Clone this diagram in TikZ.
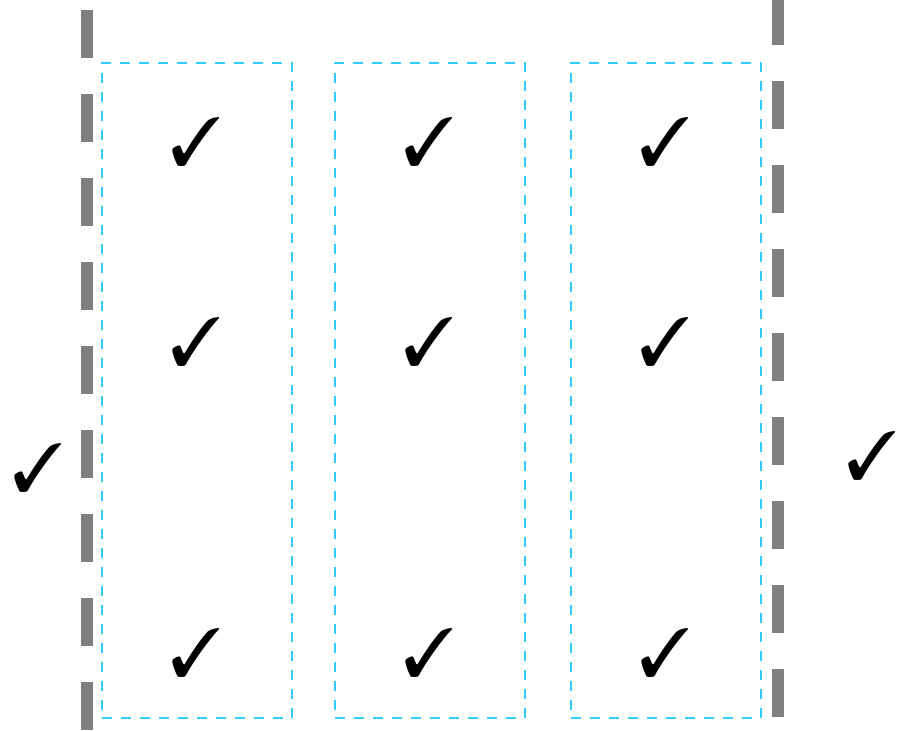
\documentclass[tikz,border=0pt]{standalone}
\usepackage{pifont}
\usepackage{tikz}
\usetikzlibrary{positioning}
\definecolor{fence}{HTML}{808080}
\definecolor{lanec}{HTML}{33CCFF}
\tikzset{
  wall/.style={draw=fence, line width=9pt, dash pattern=on 36pt off 27pt},
  lane/.style={draw=lanec, line width=1.5pt, dash pattern=on 7.5pt off 6.75pt, fill=none, inner sep=0pt, minimum width=142.5pt, minimum height=491.25pt, anchor=north west},
  tick/.style={inner sep=0pt, font=\fontsize{51}{51}\selectfont},
}

\begin{document}
\begin{tikzpicture}[x=0.75pt,y=-0.75pt]
  \useasboundingbox (0,0) rectangle (901,731);
  % walls
  \coordinate (lwtop) at (87,10);
  \coordinate (lwbot) at (87,730);
  \coordinate (rwtop) at (778,-3);
  \coordinate (rwbot) at (778,717);
  \draw[wall] (lwtop) -- (lwbot);
  \draw[wall] (rwtop) -- (rwbot);
  % lanes
  \node[lane](lane1) at (101,62){};
  \node[lane](lane2) at (334,62){};
  \node[lane](lane3) at (570,62){};
  % ticks in the lanes
  \node[tick](t1a) at (196,142){\ding{51}};
  \node[tick](t1b) at (196,342){\ding{51}};
  \node[tick](t1c) at (196,653){\ding{51}};
  \node[tick](t2a) at (429,142){\ding{51}};
  \node[tick](t2b) at (429,342){\ding{51}};
  \node[tick](t2c) at (429,653){\ding{51}};
  \node[tick](t3a) at (665,142){\ding{51}};
  \node[tick](t3b) at (665,342){\ding{51}};
  \node[tick](t3c) at (665,653){\ding{51}};
  % ticks outside
  \node[tick](tl) at (38,468){\ding{51}};
  \node[tick](tr) at (872,456){\ding{51}};
\end{tikzpicture}
\end{document}
